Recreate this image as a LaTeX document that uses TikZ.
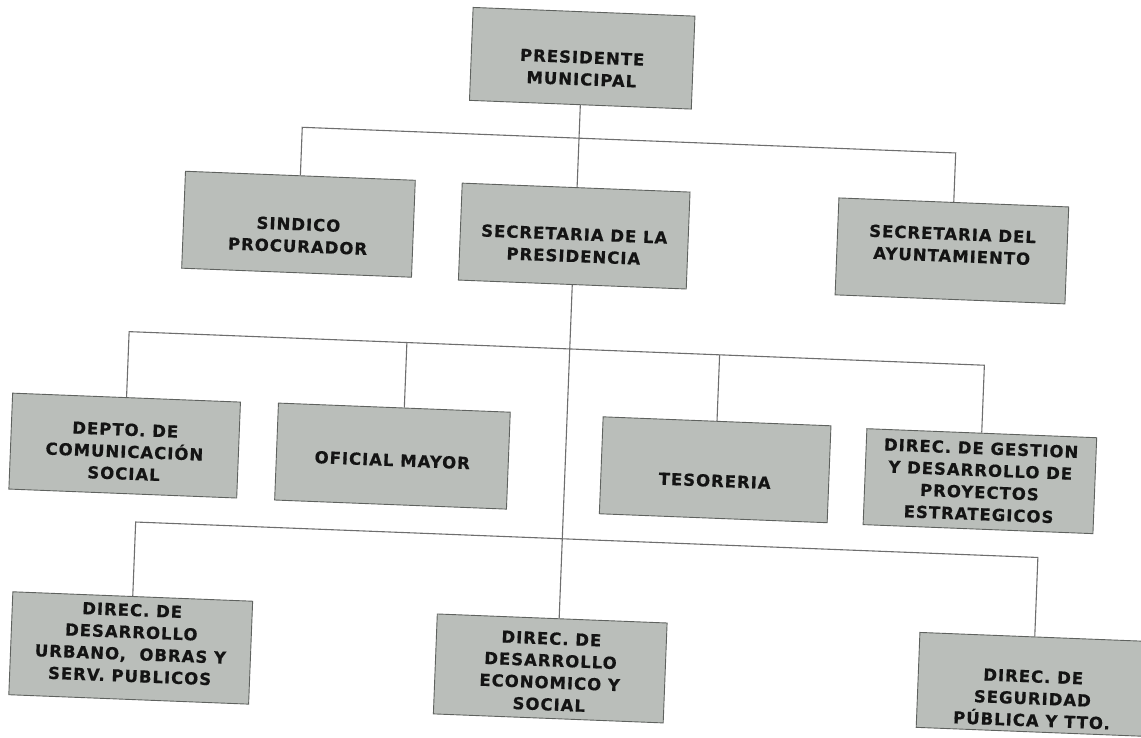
\documentclass[tikz,border=0pt]{standalone}
\usepackage{fontspec}
\usepackage{tikz}
\usetikzlibrary{positioning}
\newfontfamily\boxfont{DejaVu Sans}[LetterSpace=6,FakeBold=0.6]
\definecolor{boxgray}{RGB}{186,190,186}
\definecolor{boxline}{RGB}{95,98,95}
\definecolor{linegray}{RGB}{110,110,110}
\definecolor{txt}{RGB}{20,20,20}

\begin{document}
\begin{tikzpicture}
[x=1pt,y=-1pt,
unit/.style={draw=boxline,line width=0.9pt,fill=boxgray,minimum width=230pt,minimum height=97pt,inner sep=0pt},
lbl/.style={align=center,text=txt,inner sep=0pt,font=\boxfont\bfseries\fontsize{16.5}{22}\selectfont},
link/.style={draw=linegray,line width=1.1pt}]
\useasboundingbox (0,0) rectangle (1141,738);
\clip (0,0) rectangle (1141,738);
\begin{scope}[rotate around={-2.25:(570,369)},transform shape]
% boxes
\node[unit,minimum width=222pt,minimum height=93pt] (pres) at (570,58) {};
\node[unit] (sind) at (293,235) {};
\node[unit,minimum width=228pt] (secp) at (569,236) {};
\node[unit] (ayun) at (947,236) {};
\node[unit,minimum width=228pt,minimum height=96pt] (dept) at (128,463) {};
\node[unit,minimum width=232pt] (ofic) at (396,463) {};
\node[unit,minimum width=228pt] (teso) at (719,464) {};
\node[unit,minimum height=96pt] (gest) at (984,465) {};
\node[unit,minimum width=240pt,minimum height=103pt] (urb) at (142,665) {};
\node[unit,minimum height=100pt] (econ) at (562,669) {};
\node[unit,minimum height=95pt] (segu) at (1045,666) {};
% texts
\node[lbl] (pres-t) at (570,68) {PRESIDENTE\\MUNICIPAL};
\node[lbl] (sind-t) at (293,246) {SINDICO\\PROCURADOR};
\node[lbl] (secp-t) at (569,245) {SECRETARIA DE LA\\PRESIDENCIA};
\node[lbl] (ayun-t) at (947,230) {SECRETARIA DEL\\AYUNTAMIENTO};
\node[lbl] (dept-t) at (128,469) {DEPTO. DE\\COMUNICACIÓN\\SOCIAL};
\node[lbl] (ofic-t) at (396,467) {OFICIAL MAYOR};
\node[lbl] (teso-t) at (719,475) {TESORERIA};
\node[lbl] (gest-t) at (984,465) {DIREC. DE GESTION\\Y DESARROLLO DE\\PROYECTOS\\ESTRATEGICOS};
\node[lbl] (urb-t) at (142,660) {DIREC. DE\\DESARROLLO\\URBANO,~ OBRAS Y\\SERV. PUBLICOS};
\node[lbl] (econ-t) at (562,672) {DIREC. DE\\DESARROLLO\\ECONOMICO Y\\SOCIAL};
\node[lbl] (segu-t) at (1045,680) {DIREC. DE\\SEGURIDAD\\PÚBLICA Y TTO.};
% connectors
\coordinate (b1) at (570,138);
\coordinate (b2) at (570,349);
\coordinate (b2o) at (406,349);
\coordinate (b3) at (570,539);
\draw[link] (pres.south) -- (pres.south |- secp.north);
\draw[link] (secp.south) -- (secp.south |- econ.north);
\draw[link] (sind.north) |- (b1) -| (ayun.north);
\draw[link] (dept.north) |- (b2) -| (gest.north);
\draw[link] (b2o) -- (b2o |- ofic.north);
\draw[link] (teso.north) -- (teso.north |- b2);
\draw[link] (urb.north) |- (b3) -| (segu.north);
\end{scope}
\end{tikzpicture}
\end{document}
